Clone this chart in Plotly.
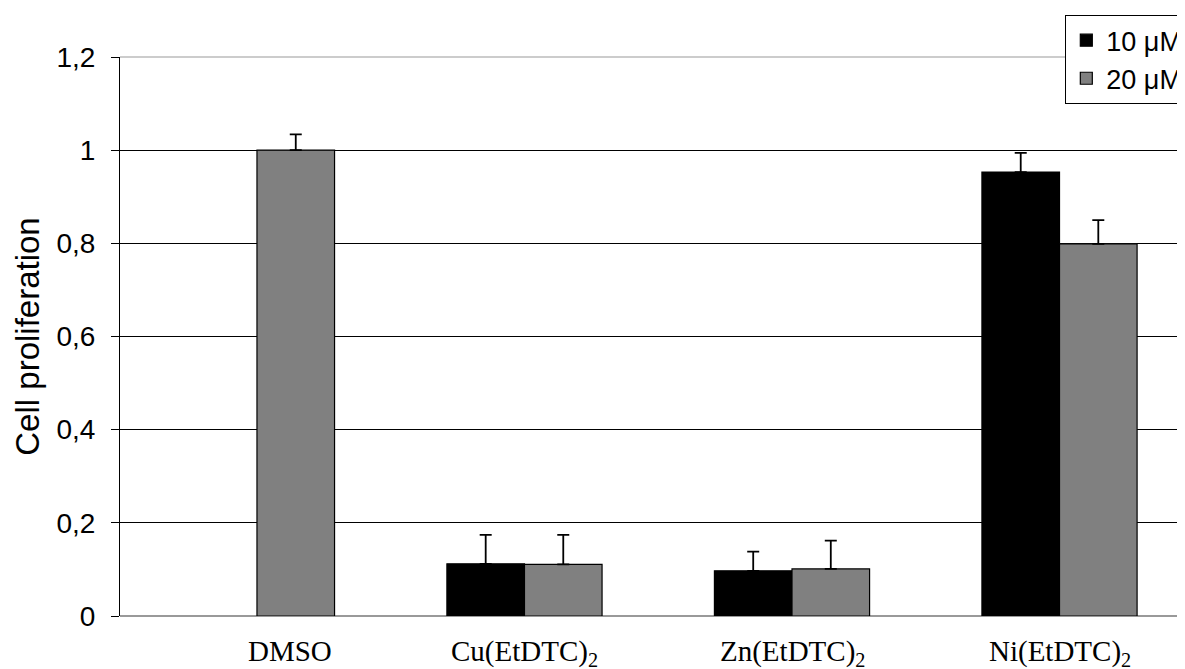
import plotly.graph_objects as go

categories = ["DMSO", "Cu(EtDTC)2", "Zn(EtDTC)2", "Ni(EtDTC)2"]
tick_labels = ["DMSO", "Cu(EtDTC)<sub>2</sub>", "Zn(EtDTC)<sub>2</sub>", "Ni(EtDTC)<sub>2</sub>"]
series_names = ["10 μM", "20 μM"]
vals_10 = [None, 0.112, 0.097, 0.953]
err_10 = [0, 0.062, 0.041, 0.041]
vals_20 = [1.0, 0.111, 0.101, 0.799]
err_20 = [0.034, 0.063, 0.061, 0.051]

fig = go.Figure()
fig.add_trace(go.Bar(
    x=categories, y=vals_10, name=series_names[0],
    marker=dict(color="#000000", line=dict(color="#000000", width=1.2)),
    error_y=dict(type="data", array=err_10, arrayminus=[0]*4, symmetric=False,
                 color="#000000", thickness=1.8, width=6),
))
fig.add_trace(go.Bar(
    x=categories, y=vals_20, name=series_names[1],
    marker=dict(color="#808080", line=dict(color="#000000", width=1.2)),
    error_y=dict(type="data", array=err_20, arrayminus=[0]*4, symmetric=False,
                 color="#000000", thickness=1.8, width=6),
))

shifts = [33, 0, 0, 0]
for c, t, s in zip(categories, tick_labels, shifts):
    fig.add_annotation(x=c, y=0, xref="x", yref="y", text=t, showarrow=False,
                       yanchor="top", yshift=-17, xshift=s,
                       font=dict(family="Liberation Serif", size=29, color="#000"))

fig.add_shape(type="line", xref="paper", yref="paper", x0=0, x1=1, y0=1, y1=1,
              line=dict(color="#999", width=1))

fig.update_layout(
    width=1185, height=669,
    margin=dict(l=112, r=0, t=49, b=61, autoexpand=False),
    paper_bgcolor="white", plot_bgcolor="white",
    barmode="group", bargap=0.42, bargroupgap=0,
    separators=", ",
    font=dict(family="Liberation Sans", color="#000"),
    showlegend=True,
    legend=dict(x=0.881, xanchor="left", y=1.075, yanchor="top",
                bordercolor="#000", borderwidth=1, bgcolor="white",
                font=dict(family="Liberation Sans", size=27, color="#000"),
                tracegroupgap=0, itemwidth=30),
    xaxis=dict(showticklabels=False, showline=False, ticks="",
               showgrid=False, zeroline=False, range=[-0.512, 3.499]),
    yaxis=dict(range=[0, 1.2], dtick=0.2, tick0=0,
               showgrid=True, gridcolor="#000", gridwidth=1,
               zeroline=True, zerolinecolor="#999", zerolinewidth=1.5,
               showline=True, linecolor="#000", linewidth=1,
               ticks="outside", ticklen=8, tickcolor="#000",
               ticklabelstandoff=10,
               tickfont=dict(family="Liberation Sans", size=28, color="#000"),
               title=dict(text="Cell proliferation", standoff=6,
                          font=dict(family="Liberation Sans", size=33, color="#000"))),
)
fig.write_html("out.html")
